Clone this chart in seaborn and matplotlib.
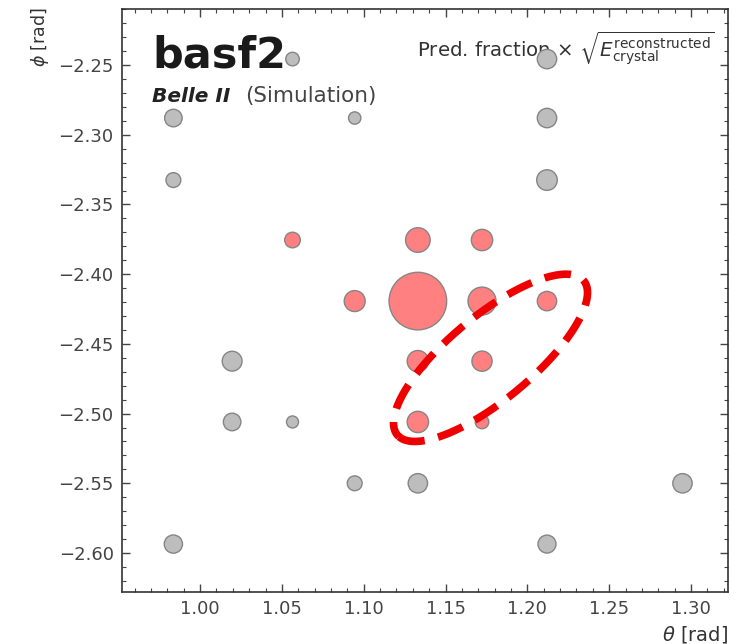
import numpy as np
import pandas as pd
import matplotlib
matplotlib.use("Agg")
import matplotlib.pyplot as plt
import seaborn as sns
from matplotlib.ticker import MultipleLocator

# ---------------- data ----------------
# crystals not in the predicted cluster (grey)
theta_gray = [1.0565, 1.2120, 0.9837, 1.0945, 1.2120, 0.9837, 1.2120,
              1.0196, 1.0196, 1.0565, 1.0945, 1.1331, 1.2948, 0.9837, 1.2120]
phi_gray = [-2.2457, -2.2457, -2.2880, -2.2880, -2.2880, -2.3325, -2.3325,
            -2.4624, -2.5060, -2.5060, -2.5500, -2.5500, -2.5500, -2.5936, -2.5936]
value_gray = [0.46, 0.94, 0.77, 0.38, 0.94, 0.55, 1.06,
              0.98, 0.77, 0.36, 0.55, 0.94, 0.94, 0.83, 0.81]

# crystals in the predicted cluster (red)
theta_red = [1.0565, 1.1331, 1.1723, 1.0945, 1.1331, 1.1723, 1.2120,
             1.1331, 1.1723, 1.1331, 1.1723]
phi_red = [-2.3755, -2.3755, -2.3755, -2.4193, -2.4193, -2.4193, -2.4193,
           -2.4624, -2.4624, -2.5060, -2.5060]
value_red = [0.61, 1.51, 1.14, 1.10, 8.29, 1.96, 0.94,
             1.14, 1.02, 1.14, 0.46]

x_ticks = [1.00, 1.05, 1.10, 1.15, 1.20, 1.25, 1.30]
y_ticks = [-2.60, -2.55, -2.50, -2.45, -2.40, -2.35, -2.30, -2.25]

# dashed ellipse annotation (centre in data units, semi-axes in pixels, angle in degrees)
ell_center = (1.1775, -2.4600)
ell_semi_px = (121.0, 42.0)
ell_angle = 39.6

df = pd.DataFrame({
    "theta": theta_gray + theta_red,
    "phi": phi_gray + phi_red,
    "value": value_gray + value_red,
    "kind": ["other"] * len(theta_gray) + ["pred"] * len(theta_red),
})

# ---------------- style ----------------
sns.set_style("ticks")
plt.rcParams["font.family"] = ["DejaVu Sans"]
plt.rcParams["mathtext.fontset"] = "dejavusans"

fig = plt.figure(figsize=(7.54, 6.44), dpi=100)
ax = fig.add_axes([0.1618, 0.0807, 0.8037, 0.9053])

vmax = max(value_red + value_gray)
sns.scatterplot(
    data=df, x="theta", y="phi", hue="kind", size="value",
    palette={"other": "#bdbdbd", "pred": "#ff8080"},
    sizes=(0, 207.36 * vmax), size_norm=(0, vmax),
    edgecolor="#858585", linewidth=1.0, legend=False, ax=ax, zorder=3,
)

ax.set_xlim(0.9523, 1.3226)
ax.set_ylim(-2.628, -2.2098)
ax.set_xticks(x_ticks)
ax.set_yticks(y_ticks)
ax.set_xticklabels([f"{v:.2f}" for v in x_ticks])
ax.set_yticklabels([f"\u2212{abs(v):.2f}" for v in y_ticks])
ax.xaxis.set_minor_locator(MultipleLocator(0.01))
ax.yaxis.set_minor_locator(MultipleLocator(0.01))
ax.tick_params(which="both", direction="in", top=True, right=True,
               colors="#444444", labelcolor="#444444")
ax.tick_params(which="major", length=6, width=1.0, labelsize=13, pad=6)
ax.tick_params(which="minor", length=3, width=0.8)
for s in ax.spines.values():
    s.set_color("#333333")
    s.set_linewidth(1.2)

ax.set_xlabel(r"$\theta$ [rad]", loc="right", fontsize=14, color="#333333")
ax.set_ylabel(r"$\phi$ [rad]", loc="top", fontsize=12.5, color="#333333")
ax.yaxis.set_label_coords(-0.117, 1.004)

# ---------------- texts ----------------
ax.text(0.05, 0.899, "basf2", transform=ax.transAxes, fontsize=31,
        fontweight="bold", color="#1a1a1a", va="baseline", zorder=1)
ax.text(0.05, 0.840, "Belle II", transform=ax.transAxes, fontsize=14.5,
        fontweight="bold", fontstyle="italic", color="#222222",
        va="baseline", zorder=1)
ax.text(0.203, 0.840, "(Simulation)", transform=ax.transAxes, fontsize=15.5,
        color="#444444", va="baseline", zorder=1)
ax.text(0.9785, 0.918,
        r"Pred. fraction $\times$ $\sqrt{E_{\rm crystal}^{\rm reconstructed}}$",
        transform=ax.transAxes, fontsize=14.2, color="#333333",
        ha="right", va="baseline", zorder=1)

# ---------------- dashed ellipse ----------------
fig.canvas.draw()
cx, cy = ax.transData.transform(ell_center)
t = np.linspace(0, 2 * np.pi, 400) + 3.2
a, b = ell_semi_px
ang = np.deg2rad(ell_angle)
px = cx + a * np.cos(t) * np.cos(ang) - b * np.sin(t) * np.sin(ang)
py = cy + a * np.cos(t) * np.sin(ang) + b * np.sin(t) * np.cos(ang)
pts = ax.transData.inverted().transform(np.column_stack([px, py]))
ax.plot(pts[:, 0], pts[:, 1], color="#ee0000", lw=5.5,
        linestyle=(0, (3.5, 1.8)), zorder=4, dash_capstyle="butt")

fig.savefig("out.png", dpi=100)
